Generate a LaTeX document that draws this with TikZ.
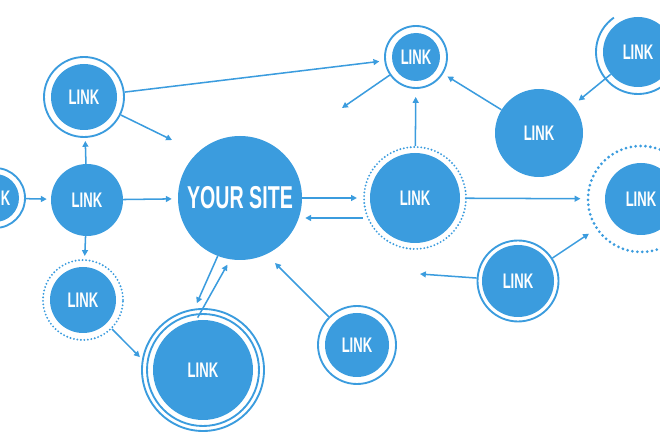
\documentclass[tikz,border=0pt]{standalone}
\usepackage{fontspec}
\usepackage{tikz}
\usetikzlibrary{arrows.meta}
\newfontfamily\linkfont[FakeStretch=0.62]{Liberation Sans}
\definecolor{linkblue}{RGB}{59,156,222}
\newdimen\pxu \pxu=0.03cm

\begin{document}
\begin{tikzpicture}[x=1\pxu, y=1\pxu,
    disc/.style={circle, fill=linkblue, text=white, inner sep=0pt, minimum size=#1\pxu,
        font=\linkfont\bfseries\fontsize{18}{18}\selectfont},
    ring/.style 2 args={circle, draw=linkblue, line width=1.6pt, text=white, inner sep=0pt,
        minimum size=#1\pxu, font=\linkfont\bfseries\fontsize{18}{18}\selectfont,
        path picture={\fill[linkblue] (path picture bounding box.center) circle[radius=#2];}},
    dots/.style={dash pattern=on 0pt off 3pt, line cap=round, line width=1.8pt},
    bigdots/.style={dash pattern=on 0pt off 4.2pt, line cap=round, line width=2.6pt},
    arr/.style={draw=linkblue, line width=1.3pt, -{Triangle[length=5pt,width=5pt]}}]
    \useasboundingbox (0,0) rectangle (660,440);

    % nodes
    \node[ring={60}{24}] (l0) at (-5,242) {LINK};
    \node[disc=72] (a) at (87,240) {LINK};
    \node[ring={80}{33}] (b) at (84,343) {LINK};
    \node[disc=124, font=\linkfont\bfseries\fontsize{27}{27}\selectfont] (site) at (240,242) {YOUR SITE};
    \node[ring={102}{45}, dots] (c) at (415,242) {LINK};
    \node[ring={62}{24}] (d) at (416,383) {LINK};
    \node[disc=88] (e) at (539,307) {LINK};
    \node[disc=70] (f) at (638,388) {LINK};
    \node[ring={106}{36}, bigdots] (g) at (641,241) {LINK};
    \node[ring={81}{36}] (h) at (518,159) {LINK};
    \node[ring={78}{32}] (i) at (357,95) {LINK};
    \node[ring={122}{50}] (j) at (203,70) {LINK};
    \node[ring={80}{33}, dots] (k) at (83,140) {LINK};

    % extra rings
    \draw[linkblue, line width=1.6pt] (j) circle[radius=56];
    \draw[linkblue, line width=1.6pt] (f) ++(125:42) arc[start angle=125, end angle=340, radius=42];

    % free ends
    \coordinate (bend) at (172,300);
    \coordinate (dend) at (342,332);
    \coordinate (hend) at (420,166);
    \coordinate (iend) at (275,177);

    % connectors
    \draw[arr, shorten >=4\pxu] (l0) -- (a);
    \draw[arr, shorten >=6\pxu] (a) -- (site);
    \draw[arr, shorten >=3\pxu] (a) -- (b);
    \draw[arr, shorten >=3\pxu] (a) -- (k);
    \draw[arr, shorten >=5\pxu] (b) -- (d);
    \draw[arr] (b) -- (bend);
    \draw[arr] (d) -- (dend);
    \draw[arr, shorten >=8\pxu] (c) -- (d);
    \draw[arr, shorten >=5\pxu] (e) -- (d);
    \draw[arr, shorten >=7\pxu] (f) -- (e);
    \draw[arr, shorten >=6\pxu] (site) -- (c);
    \draw[arr, shorten >=3\pxu] ([yshift=-20\pxu]c.west) -- ([yshift=-20\pxu]site.east);
    \draw[arr, shorten >=6\pxu] (c) -- (g);
    \draw[arr, shorten >=8\pxu] (h) -- (g);
    \draw[arr] (h) -- (hend);
    \draw[arr] (i) -- (iend);
    \draw[arr, shorten >=6\pxu] (site.249) -- (j.98);
    \draw[arr, shorten <=-11\pxu, shorten >=6\pxu] (j.90) -- (site.261);
    \draw[arr, shorten >=3\pxu] (k.315) -- (j.170);
\end{tikzpicture}
\end{document}
